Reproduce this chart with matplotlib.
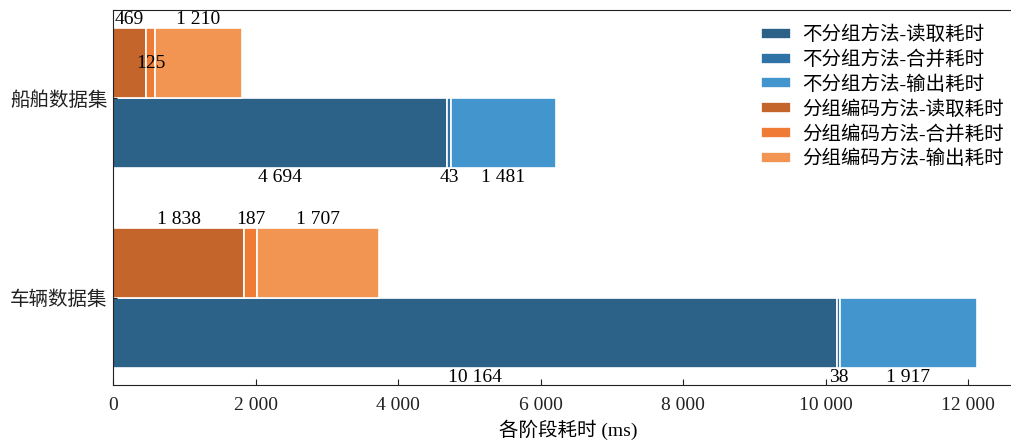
import matplotlib

matplotlib.use("Agg")
import matplotlib.pyplot as plt
from matplotlib.ticker import FuncFormatter

plt.rcParams["font.family"] = ["Liberation Serif", "Noto Sans CJK SC"]

datasets = ["车辆数据集", "船舶数据集"]
phases = ["读取耗时", "合并耗时", "输出耗时"]

# ms per phase, same order as datasets
plain_read = [10164, 4694]
plain_merge = [38, 43]
plain_write = [1917, 1481]

group_read = [1838, 469]
group_merge = [187, 125]
group_write = [1707, 1210]

plain_colors = ["#2D6288", "#2F72A6", "#4396CD"]
group_colors = ["#C4662C", "#F07B34", "#F39552"]


def fmt(v):
    return f"{int(v):,}".replace(",", " ")


fig = plt.figure(figsize=(10.12, 4.43), dpi=100)
ax = fig.add_axes([0.1117, 0.131, 0.9, 0.846])

_h = 0.35
_ypos = range(len(datasets))

for method, series, colors, sign in [
    ("不分组方法", [plain_read, plain_merge, plain_write], plain_colors, -1),
    ("分组编码方法", [group_read, group_merge, group_write], group_colors, 1),
]:
    left = [0] * len(datasets)
    for k, (vals, col) in enumerate(zip(series, colors)):
        ax.barh(
            list(_ypos),
            vals,
            height=sign * _h,
            left=left,
            align="edge",
            color=col,
            edgecolor="white",
            linewidth=1.2,
            label=f"{method}-{phases[k]}",
        )
        for i, v in enumerate(vals):
            xc = left[i] + v / 2
            if sign > 0 and k == 1 and datasets[i] == "船舶数据集":
                # too tight above the bar, put it inside
                ax.text(xc, i + _h / 2, fmt(v), ha="center", va="center", fontsize=14)
            elif sign > 0:
                ax.annotate(fmt(v), (xc, i + _h), xytext=(0, 0),
                            textcoords="offset points", ha="center",
                            va="bottom", fontsize=14)
            else:
                ax.annotate(fmt(v), (xc, i - _h), xytext=(0, -1),
                            textcoords="offset points", ha="center",
                            va="top", fontsize=14)
            left[i] += v

ax.set_xlim(0, 12783)
ax.set_ylim(-0.435, 1.44)
ax.set_xticks(range(0, 12001, 2000))
ax.xaxis.set_major_formatter(FuncFormatter(lambda v, p: fmt(v)))
ax.set_yticks(list(_ypos))
ax.set_yticklabels(datasets)
ax.tick_params(direction="in", length=4, labelsize=14, colors="#222222")
ax.tick_params(axis="x", pad=9)
ax.tick_params(axis="y", length=3, pad=4)
ax.set_xlabel("各阶段耗时 (ms)", fontsize=14, labelpad=4)
ax.spines["right"].set_visible(False)
for s in ["left", "bottom", "top"]:
    ax.spines[s].set_color("#222222")

ax.legend(
    loc="upper right",
    bbox_to_anchor=(0.997, 1.005),
    frameon=False,
    fontsize=14,
    handlelength=1.55,
    handleheight=0.5,
    labelspacing=0.32,
    handletextpad=0.55,
)

fig.savefig("out.png", dpi=100)
